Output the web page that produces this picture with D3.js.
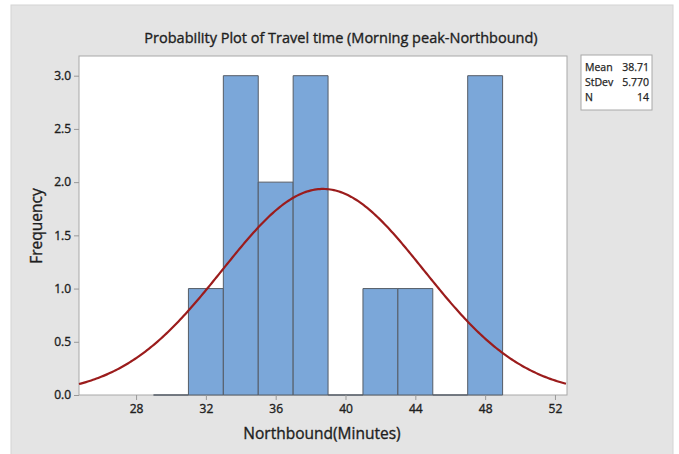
<!DOCTYPE html>
<html>
<head>
<meta charset="utf-8">
<script src="https://d3js.org/d3.v7.min.js"></script>
<style>
    body { margin: 0; background: #fff; }
    text { font-family: "Open Sans", "Noto Sans", sans-serif; fill: #1e1e1e; }
    .semi { stroke: #1e1e1e; stroke-width: 0.35; }
</style>
</head>
<body>
<svg id="chart" width="679" height="454"></svg>
<script>
    // histogram bins (lower edge, upper edge, count)
    const binLo = [29, 31, 33, 35, 37, 39, 41, 43, 45, 47];
    const binHi = [31, 33, 35, 37, 39, 41, 43, 45, 47, 49];
    const counts = [0, 1, 3, 2, 3, 0, 1, 1, 0, 3];
    const xTicks = [28, 32, 36, 40, 44, 48, 52];
    const yTicks = [0, 0.5, 1.0, 1.5, 2.0, 2.5, 3.0];
    // fitted normal from the legend
    const mean = 38.71, stdev = 5.770, n = 14;

    const svg = d3.select("#chart");

    // grey frame
    svg.append("rect")
        .attr("x", 11).attr("y", 5)
        .attr("width", 662).attr("height", 460)
        .attr("fill", "#e4e4e4")
        .attr("stroke", "#d4d4d4");

    const margin = {top: 56, left: 79, right: 567, bottom: 395};

    const x = d3.scaleLinear().domain([24.73, 52.69]).range([margin.left, margin.right]);
    const y = d3.scaleLinear().domain([0, 3.185]).range([margin.bottom, margin.top]);

    // plot area
    svg.append("rect")
        .attr("x", margin.left).attr("y", margin.top)
        .attr("width", margin.right - margin.left)
        .attr("height", margin.bottom - margin.top)
        .attr("fill", "#fff")
        .attr("stroke", "#a8a8a8");

    // bars (paths so empty bins still show as a flat line)
    const bins = counts.map((c, i) => ({lo: binLo[i], hi: binHi[i], c: c}));
    svg.append("g").selectAll("path")
        .data(bins)
        .join("path")
        .attr("d", d => "M" + x(d.lo) + "," + y(0) + "V" + y(d.c) + "H" + x(d.hi) + "V" + y(0) + "Z")
        .attr("fill", "#7ba7d9")
        .attr("stroke", "#555c66")
        .attr("stroke-width", 1);

    // normal curve scaled by n * bin width
    const bw = binHi[0] - binLo[0];
    const pts = d3.range(x.domain()[0], x.domain()[1] + 0.01, 0.1).map(v => [v,
        n * bw * Math.exp(-0.5 * Math.pow((v - mean) / stdev, 2)) / (stdev * Math.sqrt(2 * Math.PI))]);
    svg.append("path")
        .datum(pts)
        .attr("d", d3.line().x(d => x(d[0])).y(d => y(d[1])))
        .attr("fill", "none")
        .attr("stroke", "#9b1c1c")
        .attr("stroke-width", 2.2);

    // axes
    const xAxis = svg.append("g")
        .attr("transform", "translate(0," + margin.bottom + ")")
        .call(d3.axisBottom(x).tickValues(xTicks).tickSize(5).tickPadding(4));
    const yAxis = svg.append("g")
        .attr("transform", "translate(" + margin.left + ",0)")
        .call(d3.axisLeft(y).tickValues(yTicks).tickFormat(d3.format(".1f")).tickSize(5).tickPadding(3));
    [xAxis, yAxis].forEach(a => {
        a.select(".domain").remove();
        a.selectAll("line").attr("stroke", "#999");
        a.selectAll("text").attr("font-size", 12).attr("class", "semi").style("fill", "#1e1e1e")
            .style("font-family", "'Open Sans', sans-serif");
    });

    // titles
    svg.append("text")
        .attr("class", "semi")
        .attr("x", 341).attr("y", 43)
        .attr("text-anchor", "middle")
        .attr("font-size", 14.5)
        .text("Probability Plot of Travel time (Morning peak-Northbound)");
    svg.append("text")
        .attr("class", "semi")
        .attr("x", 322).attr("y", 439)
        .attr("text-anchor", "middle")
        .attr("font-size", 15.5)
        .text("Northbound(Minutes)");
    svg.append("text")
        .attr("class", "semi")
        .attr("transform", "translate(42,226) rotate(-90)")
        .attr("text-anchor", "middle")
        .attr("font-size", 15.5)
        .text("Frequency");

    // legend box
    const legLabels = ["Mean", "StDev", "N"];
    const legValues = ["38.71", "5.770", "14"];
    const leg = svg.append("g");
    leg.append("rect")
        .attr("x", 581).attr("y", 55).attr("width", 71).attr("height", 55)
        .attr("fill", "#fff").attr("stroke", "#a8a8a8");
    leg.selectAll(".lab").data(legLabels).join("text")
        .attr("class", "semi")
        .attr("x", 585).attr("y", (d, i) => 71 + i * 15)
        .attr("font-size", 10.5)
        .style("stroke-width", 0.25)
        .text(d => d);
    leg.selectAll(".val").data(legValues).join("text")
        .attr("class", "semi")
        .attr("x", 649).attr("y", (d, i) => 71 + i * 15)
        .attr("text-anchor", "end")
        .attr("font-size", 10.5)
        .style("stroke-width", 0.25)
        .text(d => d);
</script>
</body>
</html>
